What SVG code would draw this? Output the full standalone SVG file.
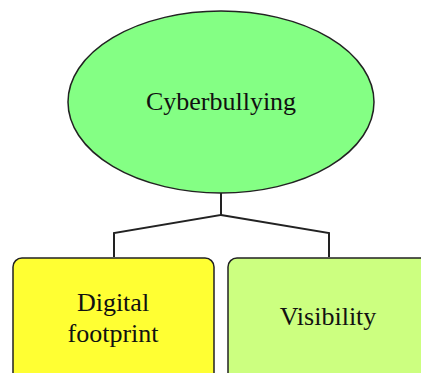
<svg xmlns="http://www.w3.org/2000/svg" width="421" height="373" viewBox="0 0 421 373">
  <style>
    .shape { stroke: #222; stroke-width: 1.5; }
    .label { font-family: "Liberation Serif", "Times New Roman", serif; font-size: 26px; fill: #111; text-anchor: middle; }
    .link { fill: none; stroke: #222; stroke-width: 2; }
  </style>
  <rect width="421" height="373" fill="#ffffff"/>
  <g id="connectors">
    <polyline class="link" points="221,193 221,215 114,233 114,257"/>
    <polyline class="link" points="221,215 329,233 329,257"/>
  </g>
  <g id="cyberbullying">
    <ellipse class="shape" cx="221" cy="102" rx="153" ry="91" fill="#84ff84"/>
    <text class="label" x="221" y="110">Cyberbullying</text>
  </g>
  <g id="digital-footprint">
    <rect class="shape" x="13" y="258" width="201" height="130" rx="9" fill="#ffff33"/>
    <text class="label" x="113" y="311">Digital</text>
    <text class="label" x="113" y="342">footprint</text>
  </g>
  <g id="visibility">
    <rect class="shape" x="228" y="258" width="210" height="130" rx="9" fill="#ccff80"/>
    <text class="label" x="328" y="325">Visibility</text>
  </g>
</svg>
